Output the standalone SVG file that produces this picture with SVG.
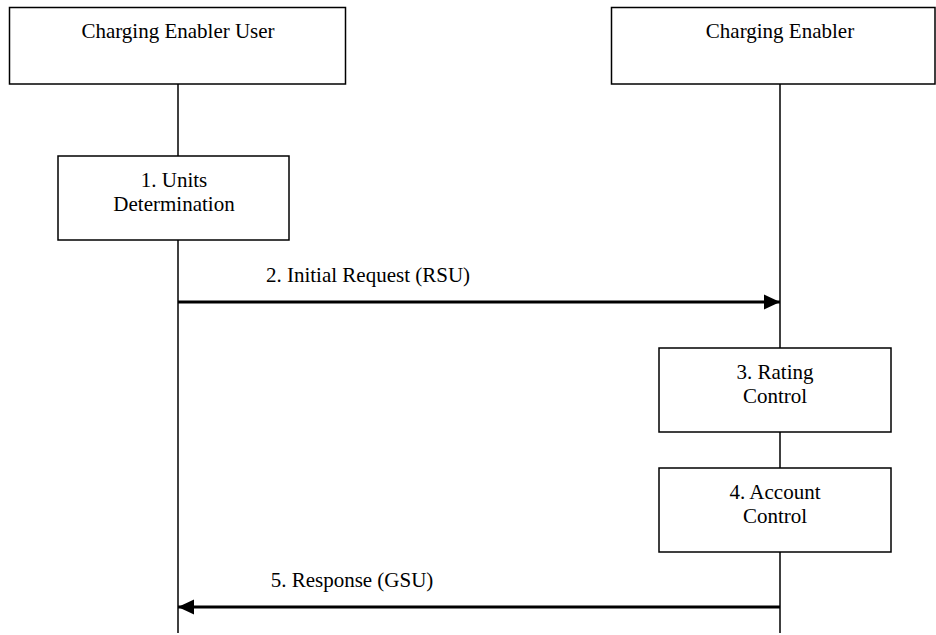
<svg xmlns="http://www.w3.org/2000/svg" width="936" height="635" viewBox="0 0 936 635">
<style>
.box{fill:#fff;stroke:#000;stroke-width:1.5}
.life{stroke:#000;stroke-width:1.5;fill:none}
.msg{stroke:#000;stroke-width:3;fill:none}
text{font-family:"Liberation Serif","Times New Roman",serif;font-size:21px;fill:#000;text-anchor:middle}
</style>
<defs>
<marker id="ah" markerUnits="userSpaceOnUse" markerWidth="16" markerHeight="16" viewBox="0 0 16 16" refX="16" refY="8" orient="auto">
<path d="M0,0.5 L16,8 L0,15.5 Z" fill="#000"/>
</marker>
</defs>
<g id="lifelines">
<line class="life" x1="178" y1="84" x2="178" y2="633"/>
<line class="life" x1="780" y1="84" x2="780" y2="633"/>
</g>
<g id="ceu">
<rect class="box" x="9.5" y="7.5" width="336" height="76.5"/>
<text x="178" y="38">Charging Enabler User</text>
</g>
<g id="ce">
<rect class="box" x="611.5" y="7.5" width="323.5" height="76.5"/>
<text x="780" y="38">Charging Enabler</text>
</g>
<g id="step1">
<rect class="box" x="58" y="156" width="231" height="84"/>
<text x="174" y="187">1. Units</text>
<text x="174" y="211">Determination</text>
</g>
<g id="step3">
<rect class="box" x="659" y="348" width="232" height="84"/>
<text x="775" y="379">3. Rating</text>
<text x="775" y="403">Control</text>
</g>
<g id="step4">
<rect class="box" x="659" y="468" width="232" height="84"/>
<text x="775" y="499">4. Account</text>
<text x="775" y="523">Control</text>
</g>
<g id="connectors">
<line class="msg" x1="178" y1="302" x2="780" y2="302" marker-end="url(#ah)"/>
<text x="368" y="282">2. Initial Request (RSU)</text>
<line class="msg" x1="780" y1="607" x2="178" y2="607" marker-end="url(#ah)"/>
<text x="352" y="587">5. Response (GSU)</text>
</g>
</svg>
